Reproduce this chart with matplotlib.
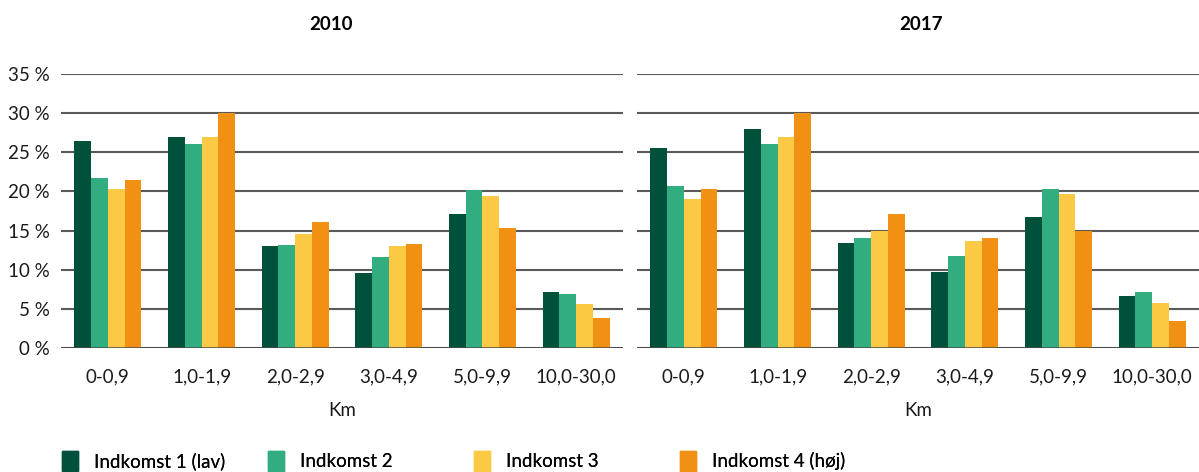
import numpy as np
import matplotlib
matplotlib.use("Agg")
import matplotlib.pyplot as plt
from matplotlib.patches import Patch

plt.rcParams['font.family'] = ['Lato', 'DejaVu Sans']

categories = ['0-0,9', '1,0-1,9', '2,0-2,9', '3,0-4,9', '5,0-9,9', '10,0-30,0']
series = ['Indkomst 1 (lav)', 'Indkomst 2', 'Indkomst 3', 'Indkomst 4 (høj)']
colors = ['#00513b', '#31ad80', '#fcc944', '#f19114']

# andel (%) per afstandsinterval
vals_2010 = [
    [26.5, 27.0, 13.0, 9.6, 17.1, 7.1],
    [21.7, 26.0, 13.2, 11.6, 20.2, 6.9],
    [20.3, 27.0, 14.6, 13.0, 19.4, 5.6],
    [21.5, 30.0, 16.1, 13.3, 15.3, 3.8],
]
vals_2017 = [
    [25.6, 28.0, 13.4, 9.7, 16.7, 6.6],
    [20.7, 26.0, 14.0, 11.7, 20.3, 7.1],
    [19.0, 27.0, 14.9, 13.7, 19.7, 5.7],
    [20.3, 30.0, 17.1, 14.0, 14.9, 3.4],
]
years = ['2010', '2017']
yticks = [0, 5, 10, 15, 20, 25, 30, 35]

fig = plt.figure(figsize=(11.99, 4.72), dpi=100)
W, H = 1199, 472
axes_px = [61, 637]
x = np.arange(len(categories))
bw = 0.178
fs = 13.5

for i, (data, year) in enumerate(zip([vals_2010, vals_2017], years)):
    ax = fig.add_axes([axes_px[i] / W, 1 - 348 / H, 562 / W, 274 / H])
    for j, s in enumerate(series):
        ax.bar(x + (j - 1.5) * bw, data[j], bw, color=colors[j], label=s, zorder=3)
    ax.set_xlim(-0.5, len(categories) - 0.5)
    ax.set_ylim(0, 35)
    ax.set_yticks(yticks)
    ax.yaxis.grid(True, color='#5a5a5a', linewidth=1.5, zorder=0)
    ax.set_axisbelow(True)
    for sp in ax.spines.values():
        sp.set_visible(False)
    ax.axhline(0, color='#4a4a4a', linewidth=1.8, zorder=4)
    ax.set_xticks(x)
    ax.set_xticklabels(categories, fontsize=fs, color='#1a1a1a')
    ax.tick_params(axis='both', length=0)
    ax.tick_params(axis='x', pad=15)
    ax.tick_params(axis='y', pad=8)
    if i == 0:
        ax.set_yticklabels([f'{t} %' for t in yticks], fontsize=fs, color='#1a1a1a')
    else:
        ax.set_yticklabels([])
    ax.set_xlabel('Km', fontsize=fs, color='#1a1a1a', labelpad=12)

fig.text(331 / W, 1 - 25 / H, '2010', ha='center', va='center', fontsize=13.5, fontweight='bold')
fig.text(921 / W, 1 - 25 / H, '2017', ha='center', va='center', fontsize=13.5, fontweight='bold')

leg_x = [62, 268, 474, 680]
for j, s in enumerate(series):
    leg = fig.legend(handles=[Patch(color=colors[j])], labels=[s], loc='center left',
                     bbox_to_anchor=(leg_x[j] / W, 1 - 461 / H), frameon=False,
                     fontsize=fs, handlelength=0.85, handleheight=1.2, handletextpad=0.85,
                     borderpad=0, borderaxespad=0)
    fig.add_artist(leg)

fig.savefig('out.png', dpi=100)
